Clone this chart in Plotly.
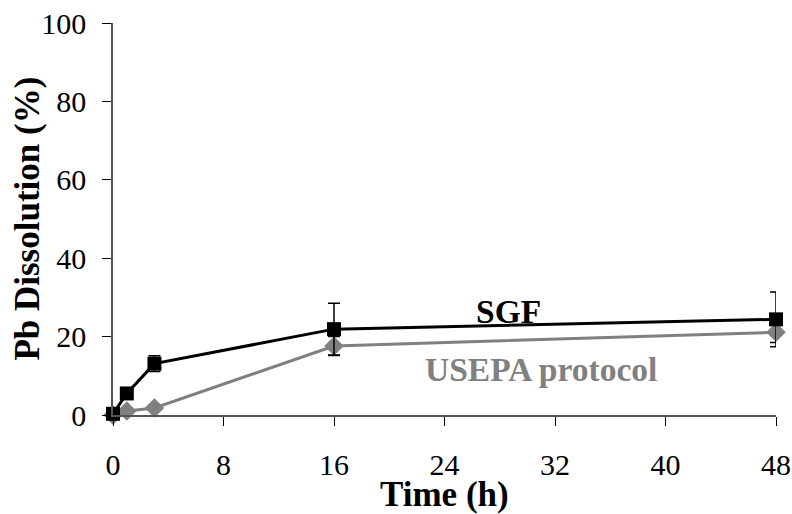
import plotly.graph_objects as go

time_sgf = [0, 1, 3, 16, 48]
sgf = [0.3, 5.5, 13.1, 21.9, 24.4]
sgf_err = [0, 0.8, 2.0, 6.6, 7.0]

time_usepa = [0, 1, 3, 16, 48]
usepa = [0.0, 1.0, 1.8, 17.6, 21.1]
usepa_err = [0, 0.3, 0.5, 2.4, 2.6]

x_ticks = [0, 8, 16, 24, 32, 40, 48]
y_ticks = [0, 20, 40, 60, 80, 100]

FONT = "Liberation Serif"
GRAY = "#808080"

fig = go.Figure()
fig.add_trace(go.Scatter(
    x=time_usepa, y=usepa, mode="lines+markers",
    line=dict(color=GRAY, width=3),
    marker=dict(symbol="diamond", size=15, color=GRAY),
    error_y=dict(type="data", array=usepa_err, color="black", thickness=1.5, width=6),
    cliponaxis=False, showlegend=False))
fig.add_trace(go.Scatter(
    x=time_sgf, y=sgf, mode="lines+markers",
    line=dict(color="black", width=3),
    marker=dict(symbol="square", size=14, color="black"),
    error_y=dict(type="data", array=sgf_err, color="black", thickness=1.5, width=6),
    cliponaxis=False, showlegend=False))

# series labels
fig.add_annotation(x=28.6, y=26.4, text="<b>SGF</b>", showarrow=False,
                   font=dict(family=FONT, size=33.5, color="black"))
fig.add_annotation(x=31.0, y=11.5, text="<b>USEPA protocol</b>", showarrow=False,
                   font=dict(family=FONT, size=33.5, color=GRAY))

# axis titles
fig.add_annotation(x=0.5, y=0, xref="paper", yref="paper", xanchor="center",
                   yanchor="middle", yshift=-79, text="<b>Time (h)</b>", showarrow=False,
                   font=dict(family=FONT, size=35, color="black"))
fig.add_annotation(x=0, y=0.501, xref="paper", yref="paper", xanchor="center",
                   yanchor="middle", xshift=-85, textangle=-90,
                   text="<b>Pb Dissolution (%)</b>", showarrow=False,
                   font=dict(family=FONT, size=35, color="black"))

fig.update_layout(
    width=792, height=514,
    margin=dict(l=113, r=16, t=23, b=99),
    plot_bgcolor="white", paper_bgcolor="white",
    font=dict(family=FONT, color="black"),
    xaxis=dict(range=[0, 48], tickvals=x_ticks, ticks="outside", ticklen=9,
               tickcolor="black", tickwidth=1, showline=True, linecolor="#555",
               linewidth=1.5, showgrid=False, zeroline=False, automargin=False,
               tickfont=dict(family=FONT, size=30, color="black"), ticklabelstandoff=13),
    yaxis=dict(range=[0, 100], tickvals=y_ticks, ticks="outside", ticklen=9,
               tickcolor="black", tickwidth=1, showline=True, linecolor="#555",
               linewidth=1.5, showgrid=False, zeroline=False, automargin=False,
               tickfont=dict(family=FONT, size=30, color="black"), ticklabelstandoff=10),
)

fig.write_html("out.html", config={"displayModeBar": False},
               post_script="document.body.style.margin='0';")
